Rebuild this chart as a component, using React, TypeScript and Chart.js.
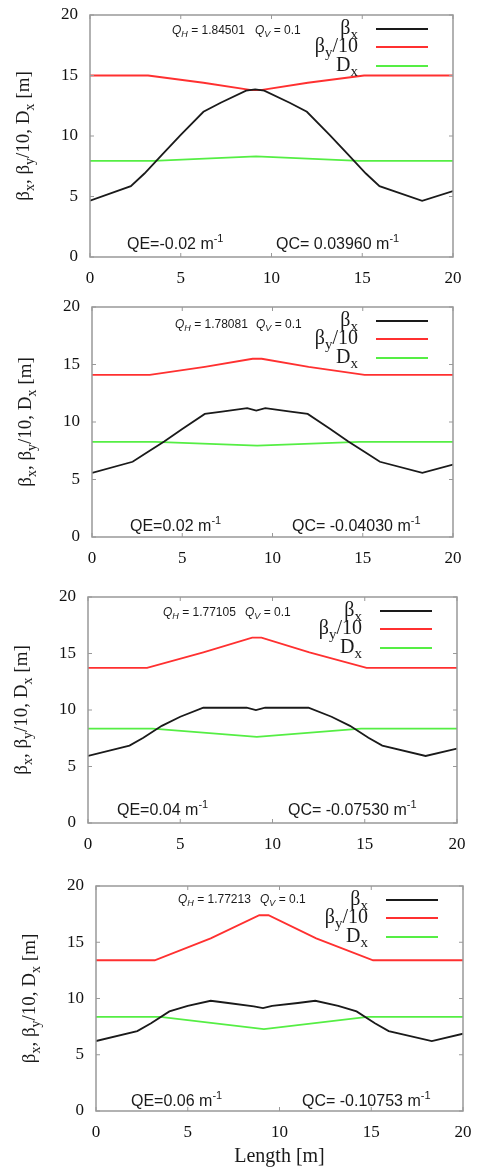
import React, { useEffect, useRef } from 'react';
import { Chart, registerables } from 'chart.js';
Chart.register(...registerables);

// ---------------- data ----------------
const X_TICKS = [0, 5, 10, 15, 20];
const Y_TICKS = [0, 5, 10, 15, 20];

// beta_x sample positions [m] and values per panel
const BX_S = [0, 2.25, 3.0, 4.0, 5.0, 6.25, 7.2, 8.6, 9.1, 9.6, 11.0, 11.95, 13.2, 14.2, 15.2, 15.95, 18.3, 20];
const BX_1 = [4.65, 5.85, 6.9, 8.5, 10.1, 12.0, 12.75, 13.75, 13.85, 13.75, 12.75, 12.0, 10.1, 8.5, 6.9, 5.85, 4.65, 5.45];
const BX_2 = [5.58, 6.54, 7.3, 8.3, 9.4, 10.7, 10.9, 11.2, 11.0, 11.2, 10.9, 10.7, 9.4, 8.3, 7.3, 6.54, 5.58, 6.3];
const BX_3 = [5.93, 6.85, 7.55, 8.6, 9.4, 10.2, 10.2, 10.2, 10.0, 10.2, 10.2, 10.2, 9.4, 8.6, 7.55, 6.85, 5.93, 6.58];
const BX_4 = [6.22, 7.1, 7.8, 8.85, 9.35, 9.8, 9.6, 9.3, 9.15, 9.35, 9.6, 9.8, 9.35, 8.85, 7.8, 7.1, 6.22, 6.87];

// beta_y / 10
const BY_S = [0, 3.2, 6.25, 8.9, 9.4, 12.0, 15.1, 20];
const BY_1 = [15.0, 15.0, 14.4, 13.8, 13.8, 14.4, 15.0, 15.0];
const BY_2 = [14.1, 14.1, 14.8, 15.5, 15.5, 14.8, 14.1, 14.1];
const BY_3 = [13.72, 13.72, 15.1, 16.4, 16.4, 15.1, 13.72, 13.72];
const BY_4 = [13.4, 13.4, 15.35, 17.4, 17.4, 15.35, 13.4, 13.4];

// D_x
const DX_S = [0, 3.5, 9.15, 14.8, 20];
const DX_1 = [7.95, 7.95, 8.32, 7.95, 7.95];
const DX_2 = [8.28, 8.28, 7.94, 8.28, 8.28];
const DX_3 = [8.35, 8.35, 7.62, 8.35, 8.35];
const DX_4 = [8.36, 8.36, 7.27, 8.36, 8.36];

const QH = ['1.84501', '1.78081', '1.77105', '1.77213'];
const QV = ['0.1', '0.1', '0.1', '0.1'];
const QE = ['-0.02', '0.02', '0.04', '0.06'];
const QC = ['0.03960', '-0.04030', '-0.07530', '-0.10753'];

const BX = [BX_1, BX_2, BX_3, BX_4];
const BY = [BY_1, BY_2, BY_3, BY_4];
const DX = [DX_1, DX_2, DX_3, DX_4];

// ---------------- layout ----------------
const W = 477;
const YW = 50;
const XH = 30;
const LAYOUT = [
  { top: 0, height: 290, l: 90, r: 453, t: 15, b: 257, qh: 82, qv: 165, qhy: 19, qe: 37, qc: 186, qey: -8 },
  { top: 290, height: 290, l: 92, r: 453, t: 307, b: 537, qh: 83, qv: 164, qhy: 21, qe: 38, qc: 200, qey: -6 },
  { top: 580, height: 290, l: 88, r: 457, t: 597, b: 823, qh: 75, qv: 157, qhy: 19, qe: 29, qc: 200, qey: -8 },
  { top: 870, height: 299, l: 96, r: 463, t: 886, b: 1111, qh: 82, qv: 164, qhy: 17, qe: 35, qc: 206, qey: -5 },
];

const SERIF = '"Liberation Serif", "DejaVu Serif", serif';
const SANS = '"Liberation Sans", Arial, sans-serif';

type Part = { t: string; size: number; dy?: number; italic?: boolean; family: string };

function drawRich(ctx: CanvasRenderingContext2D, parts: Part[], x: number, y: number, align: 'left' | 'right' | 'center') {
  const fontOf = (p: Part) => `${p.italic ? 'italic ' : ''}${p.size}px ${p.family}`;
  let total = 0;
  const widths = parts.map((p) => {
    ctx.font = fontOf(p);
    const w = ctx.measureText(p.t).width;
    total += w;
    return w;
  });
  let cx = align === 'left' ? x : align === 'right' ? x - total : x - total / 2;
  ctx.textAlign = 'left';
  ctx.textBaseline = 'alphabetic';
  parts.forEach((p, i) => {
    ctx.font = fontOf(p);
    ctx.fillText(p.t, cx, y + (p.dy || 0));
    cx += widths[i];
  });
}

const COLORS = { bx: '#1a1a1a', by: '#ff3030', dx: '#55ee44', frame: '#999999', text: '#1a1a1a' };

const fixBox = (dim: 'w' | 'h', v: number) => (s: any) => {
  if (dim === 'w') s.width = v; else s.height = v;
  s.paddingTop = 0;
  s.paddingBottom = 0;
  s.paddingLeft = 0;
  s.paddingRight = 0;
};

function Panel({ idx }: { idx: number }) {
  const ref = useRef<HTMLCanvasElement | null>(null);
  const L = LAYOUT[idx];
  useEffect(() => {
    if (!ref.current) return;
    const toPts = (xs: number[], ys: number[]) => xs.map((x, i) => ({ x, y: ys[i] }));
    const deco = {
      id: 'deco' + idx,
      afterDraw(chart: any) {
        const ctx: CanvasRenderingContext2D = chart.ctx;
        const a = chart.chartArea;
        const xs = chart.scales.x;
        const ys = chart.scales.y;
        ctx.save();
        // frame
        ctx.strokeStyle = COLORS.frame;
        ctx.lineWidth = 1.5;
        ctx.strokeRect(a.left, a.top, a.right - a.left, a.bottom - a.top);
        // small inward ticks
        ctx.lineWidth = 1;
        X_TICKS.forEach((v) => {
          const px = xs.getPixelForValue(v);
          ctx.beginPath();
          ctx.moveTo(px, a.bottom);
          ctx.lineTo(px, a.bottom - 4);
          ctx.moveTo(px, a.top);
          ctx.lineTo(px, a.top + 4);
          ctx.stroke();
        });
        Y_TICKS.forEach((v) => {
          const py = ys.getPixelForValue(v);
          ctx.beginPath();
          ctx.moveTo(a.left, py);
          ctx.lineTo(a.left + 4, py);
          ctx.moveTo(a.right, py);
          ctx.lineTo(a.right - 4, py);
          ctx.stroke();
        });
        // legend
        const legendY = [14, 32, 51];
        const legendCols = [COLORS.bx, COLORS.by, COLORS.dx];
        const legendText: Part[][] = [
          [{ t: 'β', size: 20, family: SERIF }, { t: 'x', size: 15, dy: 5, family: SERIF }],
          [{ t: 'β', size: 20, family: SERIF }, { t: 'y', size: 15, dy: 5, family: SERIF }, { t: '/10', size: 20, family: SERIF }],
          [{ t: 'D', size: 20, family: SERIF }, { t: 'x', size: 15, dy: 5, family: SERIF }],
        ];
        legendY.forEach((off, i) => {
          const y = a.top + off;
          ctx.strokeStyle = legendCols[i];
          ctx.lineWidth = 1.8;
          ctx.beginPath();
          ctx.moveTo(a.right - 77, y);
          ctx.lineTo(a.right - 25, y);
          ctx.stroke();
          ctx.fillStyle = COLORS.text;
          drawRich(ctx, legendText[i], a.right - 95, y + 5, 'right');
        });
        // tunes
        ctx.fillStyle = COLORS.text;
        drawRich(ctx, [
          { t: 'Q', size: 12, italic: true, family: SANS },
          { t: 'H', size: 9, dy: 3, italic: true, family: SANS },
          { t: ' = ' + QH[idx], size: 12, family: SANS },
        ], a.left + L.qh, a.top + L.qhy, 'left');
        drawRich(ctx, [
          { t: 'Q', size: 12, italic: true, family: SANS },
          { t: 'V', size: 9, dy: 3, italic: true, family: SANS },
          { t: ' = ' + QV[idx], size: 12, family: SANS },
        ], a.left + L.qv, a.top + L.qhy, 'left');
        // QE / QC
        drawRich(ctx, [
          { t: 'QE=' + QE[idx] + ' m', size: 16, family: SANS },
          { t: '-1', size: 11, dy: -7, family: SANS },
        ], a.left + L.qe, a.bottom + L.qey, 'left');
        drawRich(ctx, [
          { t: 'QC= ' + QC[idx] + ' m', size: 16, family: SANS },
          { t: '-1', size: 11, dy: -7, family: SANS },
        ], a.left + L.qc, a.bottom + L.qey, 'left');
        // y title (rotated)
        ctx.save();
        ctx.translate(a.left - 61, (a.top + a.bottom) / 2);
        ctx.rotate(-Math.PI / 2);
        drawRich(ctx, [
          { t: 'β', size: 19, family: SERIF },
          { t: 'x', size: 14, dy: 5, family: SERIF },
          { t: ', β', size: 19, family: SERIF },
          { t: 'y', size: 14, dy: 5, family: SERIF },
          { t: '/10, D', size: 19, family: SERIF },
          { t: 'x', size: 14, dy: 5, family: SERIF },
          { t: ' [m]', size: 19, family: SERIF },
        ], 0, 0, 'center');
        ctx.restore();
        // x title only on last panel
        if (idx === LAYOUT.length - 1) {
          drawRich(ctx, [{ t: 'Length [m]', size: 20, family: SERIF }], (a.left + a.right) / 2, a.bottom + 51, 'center');
        }
        ctx.restore();
      },
    };
    const chart = new Chart(ref.current, {
      type: 'line',
      data: {
        datasets: [
          { label: 'βx', data: toPts(BX_S, BX[idx]), borderColor: COLORS.bx, borderWidth: 1.8, pointRadius: 0, tension: 0 },
          { label: 'βy/10', data: toPts(BY_S, BY[idx]), borderColor: COLORS.by, borderWidth: 1.8, pointRadius: 0, tension: 0 },
          { label: 'Dx', data: toPts(DX_S, DX[idx]), borderColor: COLORS.dx, borderWidth: 1.8, pointRadius: 0, tension: 0 },
        ],
      },
      options: {
        responsive: false,
        animation: false,
        events: [],
        layout: {
          padding: {
            left: L.l - YW,
            right: W - L.r,
            top: L.t - L.top,
            bottom: L.top + L.height - L.b - XH,
          },
        },
        plugins: { legend: { display: false }, tooltip: { enabled: false } },
        scales: {
          x: {
            type: 'linear',
            min: 0,
            max: 20,
            afterFit: fixBox('h', XH),
            afterBuildTicks: (s: any) => { s.ticks = X_TICKS.map((v) => ({ value: v })); },
            grid: { display: false, drawTicks: false },
            border: { display: false },
            ticks: { padding: 11, color: '#111', font: { family: SERIF, size: 17 }, maxRotation: 0, autoSkip: false },
          },
          y: {
            type: 'linear',
            min: 0,
            max: 20,
            afterFit: fixBox('w', YW),
            afterBuildTicks: (s: any) => { s.ticks = Y_TICKS.map((v) => ({ value: v })); },
            grid: { display: false, drawTicks: false },
            border: { display: false },
            ticks: { padding: 12, color: '#111', font: { family: SERIF, size: 17 } },
          },
        },
      },
      plugins: [deco],
    } as any);
    return () => chart.destroy();
  }, [idx]);
  return (
    <canvas
      ref={ref}
      width={W}
      height={L.height}
      style={{ position: 'absolute', left: 0, top: L.top, width: W, height: L.height, display: 'block' }}
    />
  );
}

export default function App() {
  return (
    <div style={{ position: 'absolute', left: 0, top: 0, width: W, height: 1169, background: '#fff' }}>
      {LAYOUT.map((_, i) => (
        <Panel key={i} idx={i} />
      ))}
    </div>
  );
}
